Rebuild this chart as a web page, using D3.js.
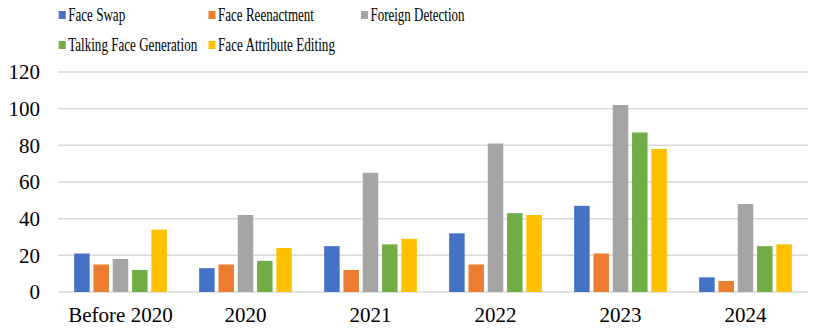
<!DOCTYPE html>
<html lang="en">
<head>
    <meta charset="UTF-8">
    <title>Publications by Year</title>
    <script src="https://d3js.org/d3.v7.min.js"></script>
    <style>
        body { margin: 0; background: #fff; }
        svg { display: block; }
        svg text { font-family: "Liberation Serif", "Times New Roman", Times, "DejaVu Serif", serif; fill: #000; }
    </style>
</head>
<body>

<svg></svg>

<script>
    const categories = ["Before 2020", "2020", "2021", "2022", "2023", "2024"];
    const seriesNames = ["Face Swap", "Face Reenactment", "Foreign Detection", "Talking Face Generation", "Face Attribute Editing"];
    const faceSwap = [21, 13, 25, 32, 47, 8];
    const faceReenactment = [15, 15, 12, 15, 21, 6];
    const foreignDetection = [18, 42, 65, 81, 102, 48];
    const talkingFace = [12, 17, 26, 43, 87, 25];
    const attributeEditing = [34, 24, 29, 42, 78, 26];
    const yTicks = [0, 20, 40, 60, 80, 100, 120];

    const colors = ["#4472C4", "#ED7D31", "#A5A5A5", "#70AD47", "#FFC000"];
    const seriesValues = [faceSwap, faceReenactment, foreignDetection, talkingFace, attributeEditing];

    const width = 830, height = 329;
    const plotLeft = 58, plotRight = 808, plotTop = 72, plotBottom = 292;

    const svg = d3.select("svg")
        .attr("width", width)
        .attr("height", height);

    const x = d3.scaleBand()
        .domain(categories)
        .range([plotLeft, plotRight])
        .padding(0);

    const groupW = 92.7;
    const xs = d3.scaleBand()
        .domain(seriesNames)
        .range([0, groupW])
        .paddingInner(0.197)
        .paddingOuter(0);

    const y = d3.scaleLinear()
        .domain([0, 120])
        .range([plotBottom, plotTop]);

    // gridlines
    svg.append("g")
        .selectAll("line")
        .data(yTicks)
        .enter().append("line")
        .attr("x1", plotLeft)
        .attr("x2", plotRight)
        .attr("y1", d => y(d))
        .attr("y2", d => y(d))
        .attr("stroke", "#d9d9d9")
        .attr("stroke-width", 1.5);

    // y labels
    svg.append("g")
        .selectAll("text")
        .data(yTicks)
        .enter().append("text")
        .attr("x", 40)
        .attr("y", d => y(d))
        .attr("dy", "0.35em")
        .attr("text-anchor", "end")
        .attr("font-size", 21)
        .text(d => d);

    // bars
    const rows = [];
    categories.forEach((c, i) => {
        seriesNames.forEach((s, j) => {
            rows.push({ cat: c, series: s, value: seriesValues[j][i], color: colors[j] });
        });
    });

    const offset = (x.bandwidth() - groupW) / 2;

    svg.append("g")
        .selectAll("rect")
        .data(rows)
        .enter().append("rect")
        .attr("x", d => x(d.cat) + offset + xs(d.series))
        .attr("y", d => y(d.value))
        .attr("width", xs.bandwidth())
        .attr("height", d => y(0) - y(d.value))
        .attr("fill", d => d.color);

    // x labels
    svg.append("g")
        .selectAll("text")
        .data(categories)
        .enter().append("text")
        .attr("x", d => x(d) + x.bandwidth() / 2)
        .attr("y", 322)
        .attr("text-anchor", "middle")
        .attr("font-size", 21)
        .text(d => d);

    // legend
    const legendPos = [[58.7, 11], [208.5, 11], [361, 11], [58.7, 41], [208.5, 41]];
    const legendLen = [57, 96, 94, 129, 117];

    const legend = svg.append("g")
        .selectAll("g")
        .data(seriesNames)
        .enter().append("g")
        .attr("transform", (d, i) => `translate(${legendPos[i][0]},${legendPos[i][1]})`);

    legend.append("rect")
        .attr("width", 7)
        .attr("height", 8)
        .attr("fill", (d, i) => colors[i]);

    legend.append("text")
        .attr("x", 9.5)
        .attr("y", 10)
        .attr("font-size", 18)
        .attr("textLength", (d, i) => legendLen[i])
        .attr("lengthAdjust", "spacingAndGlyphs")
        .text(d => d);
</script>

</body>
</html>
